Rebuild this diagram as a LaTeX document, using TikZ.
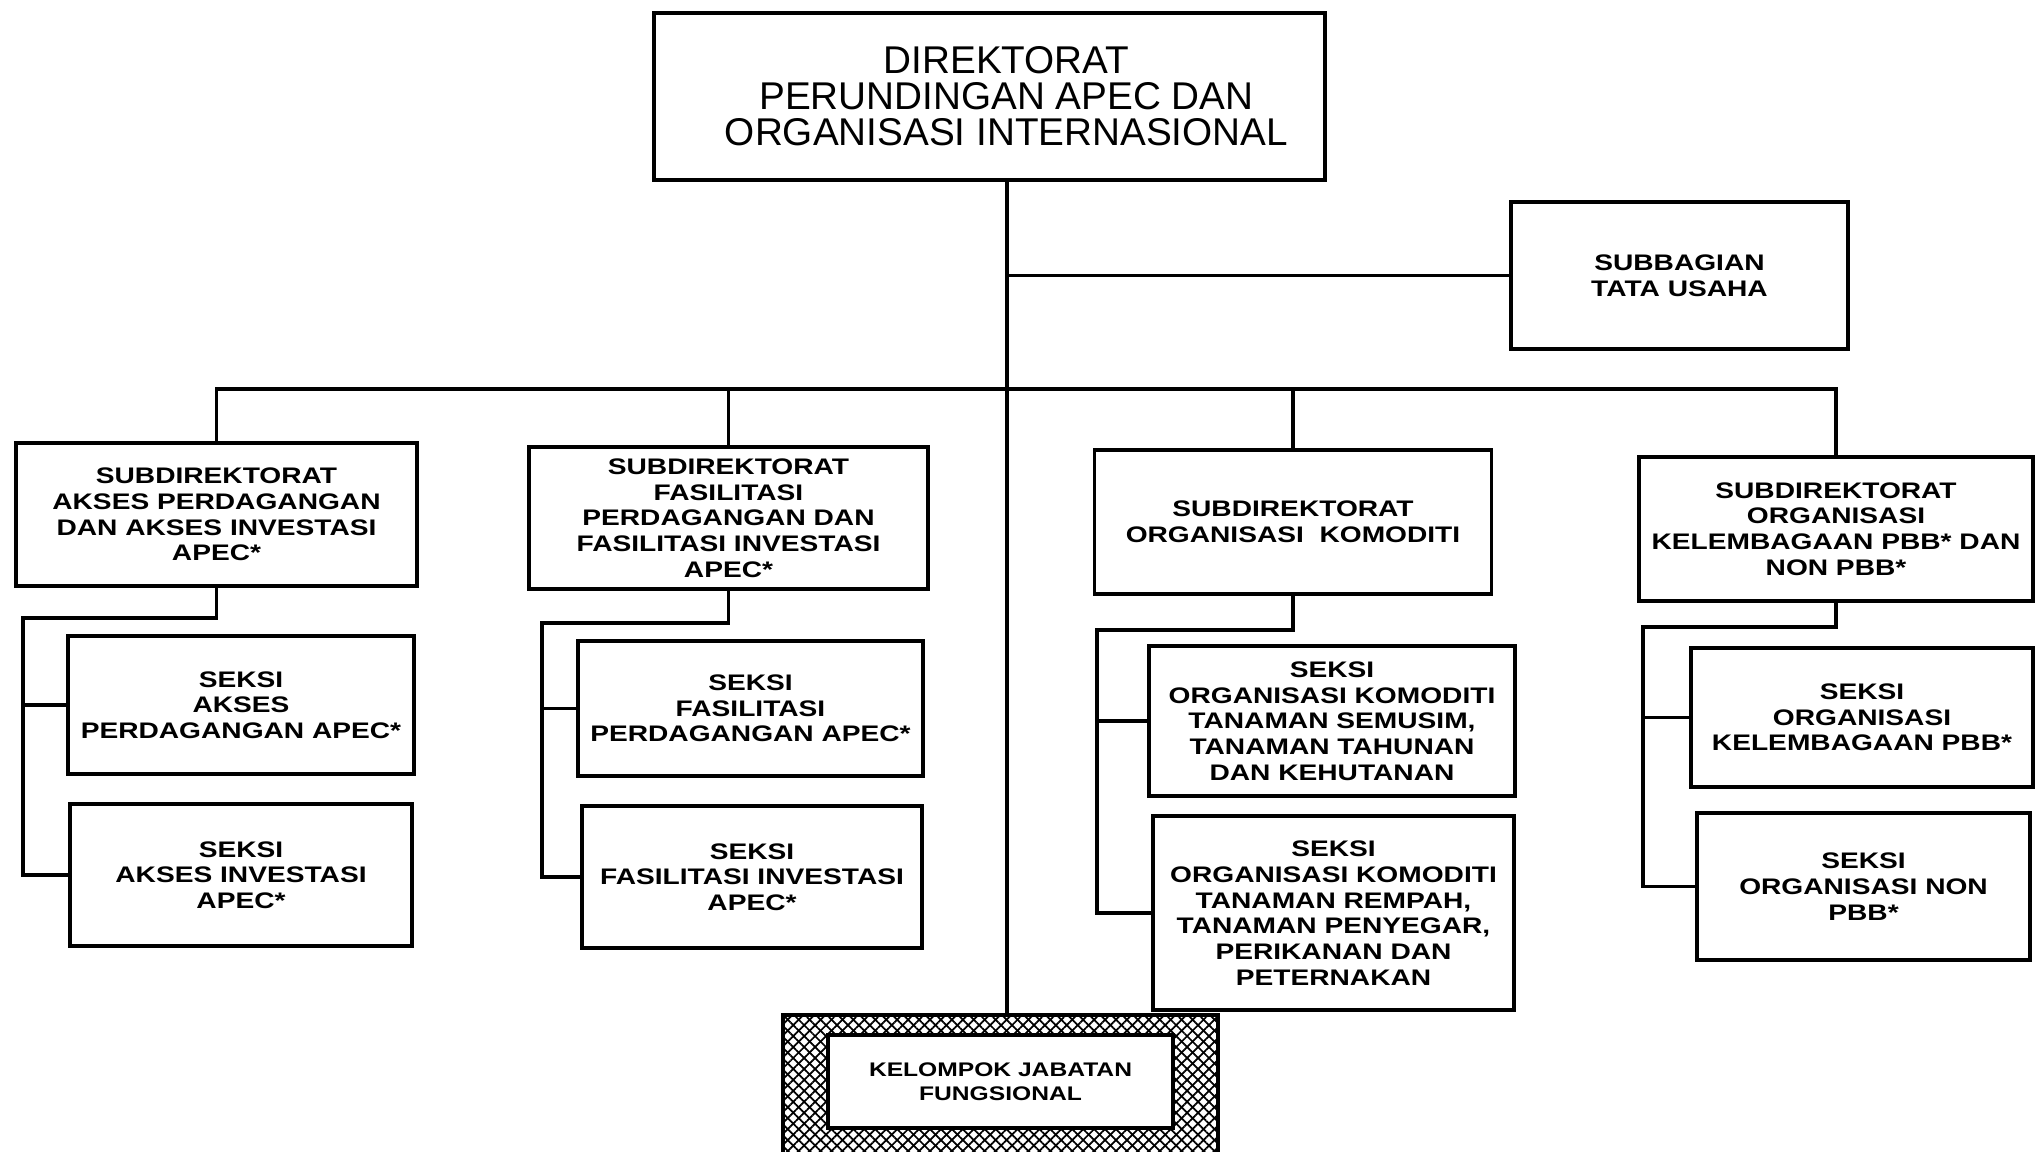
\documentclass[tikz,border=0pt]{standalone}
\usepackage{fontspec}
\newfontfamily\orgfont[FakeStretch=1.25]{Liberation Sans}
\newfontfamily\headfont{Liberation Sans}
\usetikzlibrary{positioning,patterns.meta}

\begin{document}
\begin{tikzpicture}[
  x=0.01cm, y=-0.01cm,
  unit/.style={draw, line width=1pt, inner sep=0pt, align=center,
    font=\orgfont\bfseries\fontsize{6.4}{7.3}\selectfont},
  head/.style={unit, font=\headfont\fontsize{11}{10.2}\selectfont},
  link/.style={line width=1pt},
  hatch/.style={draw, line width=1pt, inner sep=0pt,
    pattern={Lines[angle=45, distance=2.2pt, line width=0.5pt]},
    postaction={pattern={Lines[angle=-45, distance=2.2pt, line width=0.5pt]}}}
]
\useasboundingbox (0,0) rectangle (2043,1151);

% ---- Direktorat (top) ----
\node[head, minimum width=6.71cm, minimum height=1.67cm] (dir) at (989.5,96.5) {};
\node[head, draw=none] (dirtxt) at ([xshift=0.17cm]dir.center)
  {DIREKTORAT\\PERUNDINGAN APEC DAN\\ORGANISASI INTERNASIONAL};
\node[unit, minimum width=3.37cm, minimum height=1.47cm] (tu) at (1679.5,275.5)
  {SUBBAGIAN\\TATA USAHA};

\coordinate (spine) at (1007,389);

% ---- Subdirektorat ----
\node[unit, minimum width=4.01cm, minimum height=1.43cm] (s1) at (216.5,514.5)
  {SUBDIREKTORAT\\AKSES PERDAGANGAN\\DAN AKSES INVESTASI\\APEC*};
\node[unit, minimum width=3.99cm, minimum height=1.42cm] (s2) at (728.5,518)
  {SUBDIREKTORAT\\FASILITASI\\PERDAGANGAN DAN\\FASILITASI INVESTASI\\APEC*};
\node[unit, minimum width=3.97cm, minimum height=1.44cm] (s3) at (1293,522)
  {SUBDIREKTORAT\\ORGANISASI\ \ KOMODITI};
\node[unit, minimum width=3.94cm, minimum height=1.44cm] (s4) at (1836,529)
  {SUBDIREKTORAT\\ORGANISASI\\KELEMBAGAAN PBB* DAN\\NON PBB*};

% ---- Seksi ----
\node[unit, minimum width=3.46cm, minimum height=1.38cm] (s1a) at (241,705)
  {SEKSI\\AKSES\\PERDAGANGAN APEC*};
\node[unit, minimum width=3.42cm, minimum height=1.42cm] (s1b) at (241,875)
  {SEKSI\\AKSES INVESTASI\\APEC*};
\node[unit, minimum width=3.45cm, minimum height=1.35cm] (s2a) at (750.5,708.5)
  {SEKSI\\FASILITASI\\PERDAGANGAN APEC*};
\node[unit, minimum width=3.40cm, minimum height=1.42cm] (s2b) at (752,877)
  {SEKSI\\FASILITASI INVESTASI\\APEC*};
\node[unit, minimum width=3.66cm, minimum height=1.50cm] (s3a) at (1332,721)
  {SEKSI\\ORGANISASI KOMODITI\\TANAMAN SEMUSIM,\\TANAMAN TAHUNAN\\DAN KEHUTANAN};
\node[unit, minimum width=3.61cm, minimum height=1.94cm] (s3b) at (1333.5,913)
  {SEKSI\\ORGANISASI KOMODITI\\TANAMAN REMPAH,\\TANAMAN PENYEGAR,\\PERIKANAN DAN\\PETERNAKAN};
\node[unit, minimum width=3.42cm, minimum height=1.39cm] (s4a) at (1862,717.5)
  {SEKSI\\ORGANISASI\\KELEMBAGAAN PBB*};
\node[unit, minimum width=3.33cm, minimum height=1.47cm] (s4b) at (1863.5,886.5)
  {SEKSI\\ORGANISASI NON\\PBB*};

% ---- Kelompok jabatan fungsional ----
\node[hatch, minimum width=4.35cm, minimum height=1.41cm] (kjf) at (1000.5,1085.5) {};
\node[unit, fill=white, line width=1.2pt, minimum width=3.45cm, minimum height=0.93cm,
  font=\orgfont\bfseries\fontsize{5.6}{6.7}\selectfont] (kjfin) at (1000.5,1081.5)
  {KELOMPOK JABATAN\\FUNGSIONAL};

% ---- Connectors ----
\draw[link] (dir.south -| spine) -- (kjf.north -| spine);
\draw[link] (tu.west -| spine) -- (tu.west);
\draw[link] (s1.north) |- (s4.north |- spine) -- (s4.north);
\draw[link] (s2.north) -- (s2.north |- spine);
\draw[link] (s3.north) -- (s3.north |- spine);

\coordinate (r1) at (23,618);
\coordinate (r2) at (542,623);
\coordinate (r3) at (1097,630);
\coordinate (r4) at (1643,627);

\draw[link] (s1.south) |- (r1) |- (s1b.west);
\draw[link] (r1 |- s1a.west) -- (s1a.west);
\draw[link] (s2.south) |- (r2) |- (s2b.west);
\draw[link] (r2 |- s2a.west) -- (s2a.west);
\draw[link] (s3.south) |- (r3) |- (s3b.west);
\draw[link] (r3 |- s3a.west) -- (s3a.west);
\draw[link] (s4.south) |- (r4) |- (s4b.west);
\draw[link] (r4 |- s4a.west) -- (s4a.west);
\end{tikzpicture}
\end{document}
